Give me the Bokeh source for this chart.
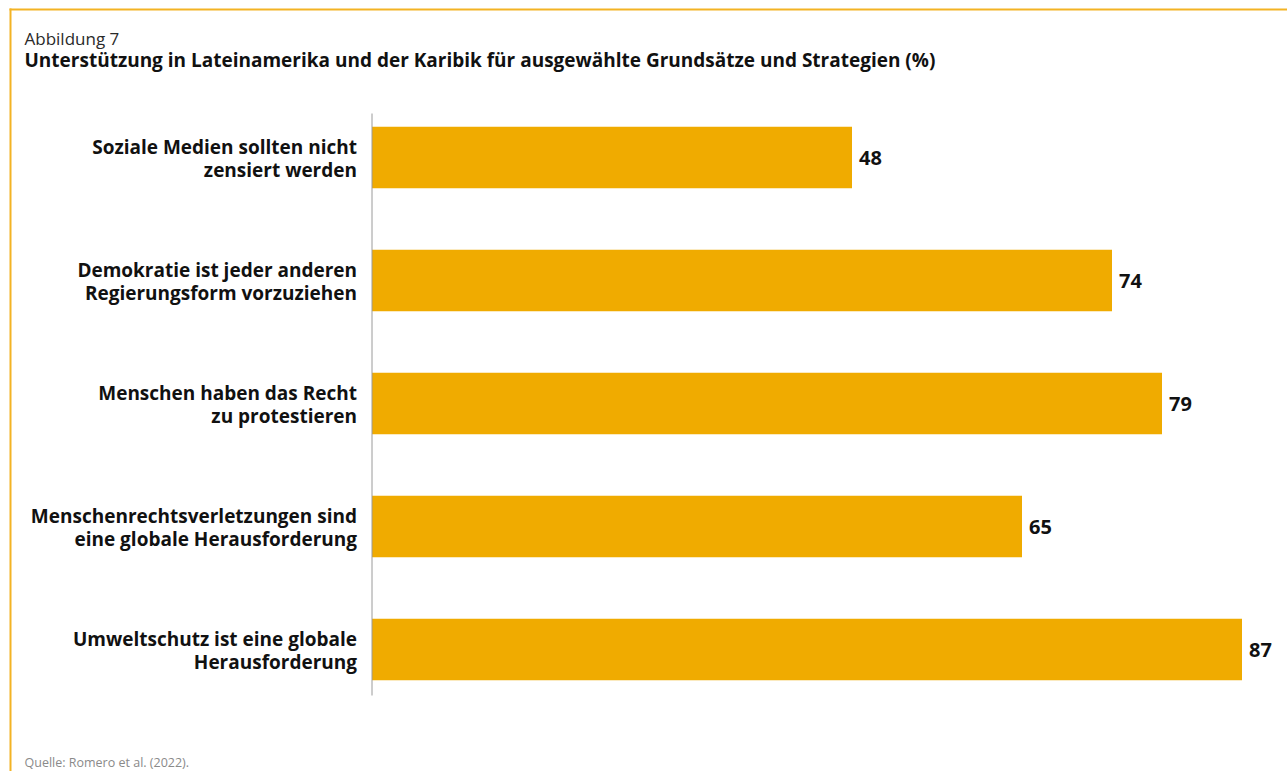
from bokeh.plotting import figure
from bokeh.models import Range1d, Label, ColumnDataSource, BoxAnnotation
from bokeh.core.properties import value
from bokeh.embed import file_html
from bokeh.resources import INLINE

categories = [
    "Soziale Medien sollten nicht\nzensiert werden",
    "Demokratie ist jeder anderen\nRegierungsform vorzuziehen",
    "Menschen haben das Recht\nzu protestieren",
    "Menschenrechtsverletzungen sind\neine globale Herausforderung",
    "Umweltschutz ist eine globale\nHerausforderung",
]
values = [48, 74, 79, 65, 87]
value_labels = [str(v) for v in values]
positions = list(range(len(categories)))

figure_label = "Abbildung 7"
title_text = "Unterstützung in Lateinamerika und der Karibik für ausgewählte Grundsätze und Strategien (%)"
source_text = "Quelle: Romero et al. (2022)."

BAR = "#F0AB00"
BORDER = "#F3B324"
AXIS = "#9a9a9a"
FONT = "Open Sans"

W, H = 1287, 771
# layout: zero of value axis at x=371.5px, 10 px per percent; category pitch 123px
X0_PX, PX_PER_UNIT = 371.5, 10.0
Y0_PX, PITCH = 157.0, 123.0
AXIS_TOP_PX, AXIS_BOTTOM_PX = 113.0, 695.0

x_range = Range1d(-X0_PX / PX_PER_UNIT, (W - X0_PX) / PX_PER_UNIT)
y_range = Range1d((H - Y0_PX) / PITCH, -Y0_PX / PITCH)

p = figure(
    width=W, height=H, x_range=x_range, y_range=y_range,
    output_backend="svg", toolbar_location=None,
    x_axis_location=None, y_axis_location=None, min_border=0,
)
p.outline_line_color = None
p.grid.visible = False

# frame border (top and left)
p.add_layout(BoxAnnotation(left=9, right=1287, top=8, bottom=10,
                           left_units="canvas", right_units="canvas",
                           top_units="canvas", bottom_units="canvas",
                           fill_color=BORDER, fill_alpha=1, line_color=None))
p.add_layout(BoxAnnotation(left=9, right=11, top=8, bottom=771,
                           left_units="canvas", right_units="canvas",
                           top_units="canvas", bottom_units="canvas",
                           fill_color=BORDER, fill_alpha=1, line_color=None))

src = ColumnDataSource(dict(y=positions, v=values, lab=value_labels, cat=categories,
                            zero=[0] * len(values)))
p.hbar(y="y", right="v", left=0, height=0.5, source=src, fill_color=BAR, line_color=None)

# category axis line
p.segment(x0=0, x1=0, y0=(AXIS_TOP_PX - Y0_PX) / PITCH, y1=(AXIS_BOTTOM_PX - Y0_PX) / PITCH,
          line_color=AXIS, line_width=1)

# category labels
p.text(x="zero", y="y", text="cat", source=src, x_offset=-15, y_offset=1,
       text_align="right", text_baseline="middle", text_font=value(FONT),
       text_font_size="19px", text_font_style="bold", text_color="#111111",
       text_line_height=0.85)

# value labels
p.text(x="v", y="y", text="lab", source=src, x_offset=7, text_baseline="middle",
       text_align="left", text_font=value(FONT), text_font_size="20px",
       text_font_style="bold", text_color="#111111")

p.add_layout(Label(x=24, y=38, x_units="canvas", y_units="canvas", text=figure_label,
                   text_font=FONT, text_font_size="17px", text_color="#2a2a2a",
                   text_baseline="alphabetic"))
p.add_layout(Label(x=24, y=59, x_units="canvas", y_units="canvas", text=title_text,
                   text_font=FONT, text_font_size="19px", text_font_style="bold",
                   text_color="#111111", text_baseline="alphabetic"))
p.add_layout(Label(x=24, y=762, x_units="canvas", y_units="canvas", text=source_text,
                   text_font=FONT, text_font_size="12.5px", text_color="#8a8a8a",
                   text_baseline="alphabetic"))

open("out.html", "w").write(file_html(p, INLINE))
